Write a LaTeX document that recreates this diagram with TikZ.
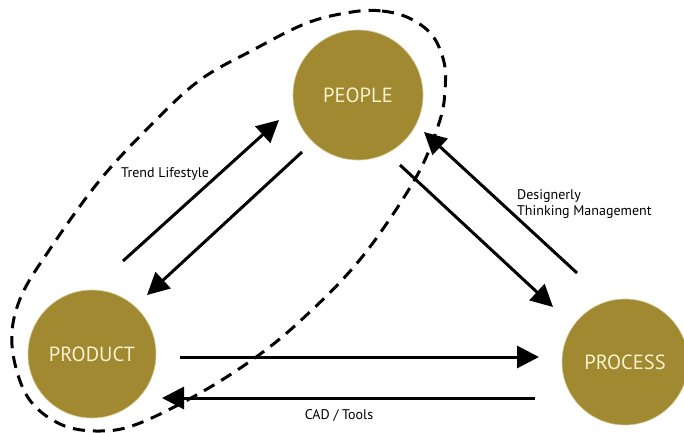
\documentclass[tikz,border=0pt]{standalone}
\usepackage{fontspec}
\setmainfont{PT Sans}
\usetikzlibrary{arrows.meta}
\definecolor{gold}{RGB}{160,137,48}
\definecolor{cream}{RGB}{247,242,205}
\begin{document}
\begin{tikzpicture}[x=1pt,y=-1pt,
  hub/.style={circle,fill=gold,draw=cream!60!gold,line width=0.6pt,inner sep=0pt,minimum size=#1,text=cream,font=\fontsize{20.5}{20}\selectfont},
  flow/.style={line width=3pt,-{Triangle[length=22pt,width=22pt]}},
  lbl/.style={font=\fontsize{14}{16.5}\selectfont,text=black,inner sep=0pt},
  group/.style={line width=3pt,dash pattern=on 12pt off 8pt}]
\useasboundingbox (0,0) rectangle (684,432);
% group outline
\draw[group] plot[smooth cycle,tension=0.6] coordinates {
 (352,12) (382,11) (409,18) (432,35) (444,62) (445,90) (440,120) (420,170)
 (385,226) (352,269) (313,309) (267,349) (207,389) (140,423) (100,431)
 (60,424) (27,396) (12,345) (20,299) (50,249) (100,180) (153,123)
 (200,80) (253,50) (307,23)};
% hubs
\node[hub=130pt] (people) at (358,95) {PEOPLE};
\node[hub=128pt] (product) at (92,354) {PRODUCT};
\node[hub=126pt] (process) at (625,362) {PROCESS};
% arrow end points
\coordinate (a1s) at (123,261); \coordinate (a1e) at (279,120);
\coordinate (a2s) at (302,152); \coordinate (a2e) at (147,295);
\coordinate (a3s) at (400,165); \coordinate (a3e) at (553,307);
\coordinate (a4s) at (577,273); \coordinate (a4e) at (424,132);
\coordinate (a5s) at (180,357); \coordinate (a5e) at (539,357);
\coordinate (a6s) at (535,398); \coordinate (a6e) at (162,398);
\draw[flow] (a1s) -- (a1e);
\draw[flow] (a2s) -- (a2e);
\draw[flow] (a3s) -- (a3e);
\draw[flow] (a4s) -- (a4e);
\draw[flow] (a5s) -- (a5e);
\draw[flow] (a6s) -- (a6e);
% labels
\node[lbl,anchor=west] (trend) at (121,174) {Trend Lifestyle};
\node[lbl,anchor=north west,align=left] (dtm) at (517,189) {Designerly\\Thinking Management};
\node[lbl] (cad) at (339,415) {CAD / Tools};
\end{tikzpicture}
\end{document}
